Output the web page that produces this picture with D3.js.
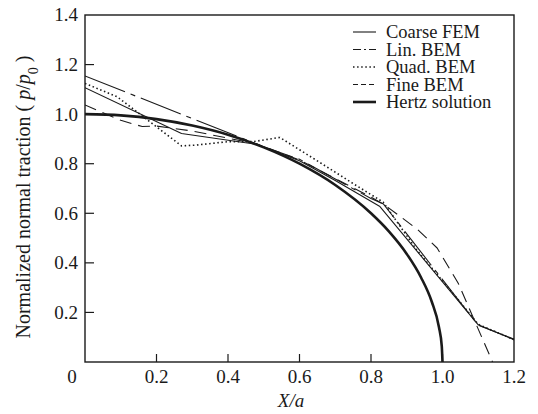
<!DOCTYPE html>
<html>
<head>
<meta charset="utf-8">
<script src="https://cdn.jsdelivr.net/npm/d3@7"></script>
<style>
  body { margin: 0; background: #fff; }
  svg { display: block; font-family: "Liberation Serif", "Times New Roman", serif; }
</style>
</head>
<body>
<svg id="chart" width="538" height="414"></svg>
<script>
// ---- data ----
const xTicks = [0.2, 0.4, 0.6, 0.8, 1.0, 1.2];
const xTickLabels = ["0.2", "0.4", "0.6", "0.8", "1.0", "1.2"];
const yTicks = [0.2, 0.4, 0.6, 0.8, 1.0, 1.2, 1.4];
const yTickLabels = ["0.2", "0.4", "0.6", "0.8", "1.0", "1.2", "1.4"];
const seriesNames = ["Coarse FEM", "Lin. BEM", "Quad. BEM", "Fine BEM", "Hertz solution"];

const coarseX = [0, 0.27, 0.48, 0.6, 0.7, 0.825, 1.1, 1.2];
const coarseY = [1.107, 0.922, 0.878, 0.812, 0.732, 0.627, 0.15, 0.09];

const linX = [0, 0.5, 0.6, 0.7, 0.8, 0.835, 1.1, 1.2];
const linY = [1.154, 0.868, 0.818, 0.738, 0.66, 0.637, 0.148, 0.092];

const quadX = [0, 0.09, 0.19, 0.27, 0.31, 0.4, 0.47, 0.545, 0.657, 0.75, 0.834, 0.928, 1.04, 1.1, 1.2];
const quadY = [1.124, 1.07, 0.96, 0.872, 0.875, 0.889, 0.889, 0.906, 0.805, 0.72, 0.645, 0.452, 0.258, 0.152, 0.09];

const fineX = [0, 0.1, 0.16, 0.2, 0.3, 0.48, 0.6, 0.7, 0.8, 0.839, 0.93, 0.985, 1.044, 1.14];
const fineY = [1.037, 0.975, 0.95, 0.952, 0.932, 0.88, 0.815, 0.74, 0.665, 0.633, 0.535, 0.46, 0.318, 0.0];

const hertzX = [0, 0.1, 0.2, 0.3, 0.4, 0.5, 0.6, 0.7, 0.8, 0.85, 0.9, 0.94, 0.97, 0.99, 0.998, 1.0];
const hertzY = [1.0, 0.995, 0.98, 0.954, 0.917, 0.866, 0.8, 0.714, 0.6, 0.527, 0.436, 0.341, 0.243, 0.141, 0.063, 0.0];

// ---- layout ----
const svg = d3.select("#chart");
const L = 85, R = 514, T = 15, B = 362;
const x = d3.scaleLinear().domain([0, 1.2]).range([L, R]);
const y = d3.scaleLinear().domain([0, 1.4]).range([B, T]);
const ink = "#1a1a1a";
const fs = 19;

const styles = [
  { w: 1.1, dash: null },
  { w: 1.1, dash: "43,6,5,6" },
  { w: 1.6, dash: "1.5,2.6" },
  { w: 1.1, dash: "12,7" },
  { w: 2.6, dash: null }
];
const series = [
  [coarseX, coarseY], [linX, linY], [quadX, quadY], [fineX, fineY], [hertzX, hertzY]
];

// clip
svg.append("clipPath").attr("id", "clip")
  .append("rect").attr("x", L).attr("y", T).attr("width", R - L).attr("height", B - T);

// frame
svg.append("rect").attr("x", L).attr("y", T).attr("width", R - L).attr("height", B - T)
  .attr("fill", "none").attr("stroke", ink).attr("stroke-width", 1.4);

// inner ticks
svg.append("g").selectAll("line").data(xTicks.filter(d => d < 1.2)).join("line")
  .attr("x1", d => x(d)).attr("x2", d => x(d)).attr("y1", B).attr("y2", B - 8)
  .attr("stroke", ink).attr("stroke-width", 1.2);
svg.append("g").selectAll("line").data(yTicks.filter(d => d < 1.4)).join("line")
  .attr("x1", L).attr("x2", L + 9).attr("y1", d => y(d)).attr("y2", d => y(d))
  .attr("stroke", ink).attr("stroke-width", 1.2);

// tick labels
svg.append("g").selectAll("text").data(xTicks).join("text")
  .attr("x", d => x(d)).attr("y", 383).attr("text-anchor", "middle")
  .attr("font-size", fs).attr("fill", ink)
  .text((d, i) => xTickLabels[i]);
svg.append("text").attr("x", 72).attr("y", 383).attr("text-anchor", "middle")
  .attr("font-size", fs).attr("fill", ink).text("0");
svg.append("g").selectAll("text").data(yTicks).join("text")
  .attr("x", 78).attr("y", d => y(d)).attr("dy", "0.34em").attr("text-anchor", "end")
  .attr("font-size", fs).attr("fill", ink)
  .text((d, i) => yTickLabels[i]);

// axis titles
svg.append("text").attr("x", 291).attr("y", 407).attr("text-anchor", "middle")
  .attr("font-size", fs).attr("fill", ink).attr("font-style", "italic")
  .text("X/a");

const yt = svg.append("text").attr("transform", "translate(30,197) rotate(-90)")
  .attr("text-anchor", "middle").attr("font-size", 20).attr("fill", ink);
yt.append("tspan").text("Normalized normal traction ( ");
yt.append("tspan").attr("font-style", "italic").text("p");
yt.append("tspan").text("/");
yt.append("tspan").attr("font-style", "italic").text("p");
yt.append("tspan").attr("baseline-shift", "sub").attr("font-size", 14).text("0");
yt.append("tspan").text(" )");

// curves
const line = d3.line().x(d => x(d[0])).y(d => y(d[1]));
const gLines = svg.append("g").attr("clip-path", "url(#clip)");
series.forEach((s, i) => {
  const pts = s[0].map((v, j) => [v, s[1][j]]);
  const ln = i === 4 ? line.curve(d3.curveMonotoneX) : line.curve(d3.curveLinear);
  gLines.append("path").attr("d", ln(pts))
    .attr("fill", "none").attr("stroke", ink)
    .attr("stroke-width", styles[i].w)
    .attr("stroke-dasharray", styles[i].dash)
    .attr("stroke-linejoin", "round");
});

// legend
const legY = [32, 49.5, 67, 84.5, 102];
const legendDash = [null, "8,3,2,3", "1.5,2.6", "5,3", null];
const lg = svg.append("g");
seriesNames.forEach((name, i) => {
  lg.append("line").attr("x1", 353).attr("x2", 376).attr("y1", legY[i]).attr("y2", legY[i])
    .attr("stroke", ink).attr("stroke-width", styles[i].w)
    .attr("stroke-dasharray", legendDash[i]);
  lg.append("text").attr("x", 386).attr("y", legY[i]).attr("dy", "0.34em")
    .attr("font-size", 18.5).attr("fill", ink).text(name);
});
</script>
</body>
</html>
